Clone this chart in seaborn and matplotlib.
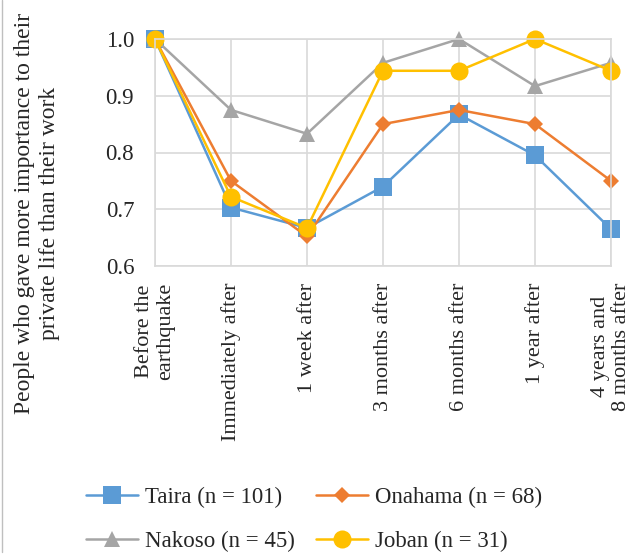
import pandas as pd
import seaborn as sns
import matplotlib.pyplot as plt
from matplotlib.lines import Line2D

# 各時期の値 (読み取り値)
periods = ['Before the\nearthquake', 'Immediately after', '1 week after', '3 months after',
           '6 months after', '1 year after', '4 years and\n8 months after']
taira = [1.0, 0.703, 0.667, 0.740, 0.867, 0.795, 0.665]
onahama = [1.0, 0.750, 0.652, 0.850, 0.875, 0.850, 0.750]
nakoso = [1.0, 0.875, 0.833, 0.958, 1.0, 0.917, 0.958]
joban = [1.0, 0.722, 0.667, 0.944, 0.944, 1.0, 0.944]
labels = ['Taira (n = 101)', 'Onahama (n = 68)', 'Nakoso (n = 45)', 'Joban (n = 31)']
yticks = [0.6, 0.7, 0.8, 0.9, 1.0]

colors = ['#5B9BD5', '#ED7D31', '#A5A5A5', '#FFC000']
markers = ['s', 'D', '^', 'o']
msizes = [13, 8, 11, 13]

sns.set_style("white")
plt.rcParams['font.family'] = ['Liberation Serif', 'DejaVu Serif']

rows = []
for name, vals in zip(labels, [taira, onahama, nakoso, joban]):
    for i, v in enumerate(vals):
        rows.append({'group': name, 'pos': i, 'value': v})
df = pd.DataFrame(rows)

fig = plt.figure(figsize=(6.33, 5.59), dpi=100)
ax = fig.add_axes([155 / 633, 1 - 266 / 559, (611 - 155) / 633, (266 - 39) / 559])

for name, c, m, ms in zip(labels, colors, markers, msizes):
    sns.lineplot(data=df[df['group'] == name], x='pos', y='value', ax=ax,
                 color=c, marker=m, markersize=ms, linewidth=1.8,
                 markeredgecolor=c, markeredgewidth=0, label=name, clip_on=False)

ax.set_xlim(0, 6)
ax.set_ylim(0.6, 1.0)
ax.set_xticks(range(len(periods)))
ax.set_xticklabels(periods, rotation=90, fontsize=16, color='#262626')
ax.set_yticks(yticks)
ax.set_yticklabels([f'{t:.1f}' for t in yticks], fontsize=16.5, color='#262626')
ax.tick_params(axis='both', length=0)
ax.tick_params(axis='x', pad=12)
ax.tick_params(axis='y', pad=15)
ax.set_xlabel('')
ax.set_ylabel('')
ax.grid(True, color='#D9D9D9', linewidth=1.2)
ax.set_axisbelow(True)
for s in ax.spines.values():
    s.set_color('#D9D9D9')
    s.set_linewidth(1.2)

fig.text(37 / 633, 1 - 213 / 559,
         'People who gave more importance to their\nprivate life than their work',
         rotation=90, ha='center', va='center', multialignment='center',
         fontsize=17, color='#262626')

# 凡例は行方向に並べる (ncol=2 は列優先なので並べ替え)
handles, labs = ax.get_legend_handles_labels()
ax.get_legend().remove()
order = [0, 2, 1, 3]
fig.legend([handles[i] for i in order], [labs[i] for i in order], loc='center',
           bbox_to_anchor=(314 / 633, 1 - 519 / 559),
           ncol=2, frameon=False, fontsize=16.5, handlelength=2.3, handletextpad=0.3,
           columnspacing=0.9, labelspacing=1.0)

# 左端の枠線
fig.add_artist(Line2D([2 / 633, 2 / 633], [1 - 552 / 559, 1.0], color='#BFBFBF', linewidth=1))

plt.savefig('out.png', dpi=100)
